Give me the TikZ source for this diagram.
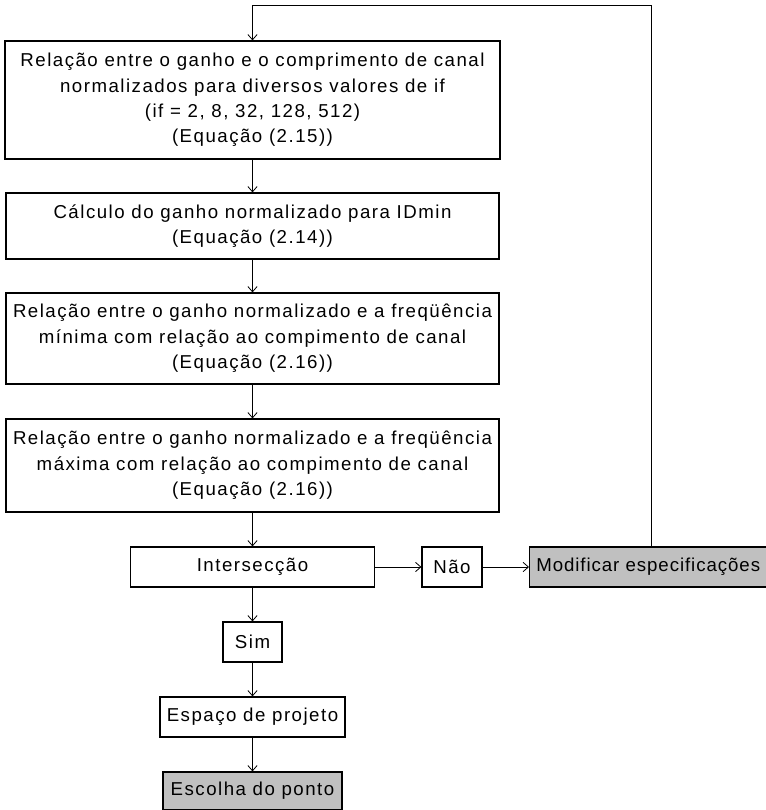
\documentclass[tikz,border=0pt]{standalone}
\usepackage{fontspec}
\setmainfont{Liberation Sans}[LetterSpace=8]
\usetikzlibrary{arrows.meta}
\definecolor{boxgray}{HTML}{C0C0C0}
\tikzset{
  x=0.75pt, y=-0.75pt,
  box/.style={draw=black, line width=0.9pt, fill=white, inner sep=0pt, align=center,
    font=\fontsize{14pt}{19pt}\selectfont},
  graybox/.style={box, fill=boxgray},
  conn/.style={draw=black, line width=0.7pt, -{Straight Barb[length=4pt,width=7pt,line width=0.6pt]}},
  plain/.style={draw=black, line width=0.7pt}
}
\begin{document}
\begin{tikzpicture}
\useasboundingbox (0,0) rectangle (765,810);
\node[box, minimum width=495*0.75pt, minimum height=118*0.75pt] (b1) at (252.5,100)
  {Relação entre o ganho e o comprimento de canal\\normalizados para diversos valores de if\\(if = 2, 8, 32, 128, 512)\\(Equação (2.15))};
\node[box, minimum width=493*0.75pt, minimum height=66*0.75pt] (b2) at (252.5,226)
  {Cálculo do ganho normalizado para IDmin\\(Equação (2.14))};
\node[box, minimum width=493*0.75pt, minimum height=91*0.75pt] (b3) at (252.5,338.5)
  {Relação entre o ganho normalizado e a freqüência\\mínima com relação ao compimento de canal\\(Equação (2.16))};
\node[box, minimum width=493*0.75pt, minimum height=93*0.75pt] (b4) at (252.5,465.5)
  {Relação entre o ganho normalizado e a freqüência\\máxima com relação ao compimento de canal\\(Equação (2.16))};
\node[box, minimum width=244*0.75pt, minimum height=40*0.75pt] (int) at (252.5,567) {Intersecção};
\node[box, minimum width=60*0.75pt, minimum height=40*0.75pt] (nao) at (452,567) {Não};
\node[graybox, minimum height=40*0.75pt, anchor=west] (mod) at (529,567)
  {\makebox[183.75pt][l]{\hspace{5pt}\addfontfeature{LetterSpace=5}Modificar especificações}};
\node[box, minimum width=59*0.75pt, minimum height=40*0.75pt] (sim) at (252.5,642) {Sim};
\node[box, minimum width=185*0.75pt, minimum height=40*0.75pt] (esp) at (252.5,717) {Espaço de projeto};
\node[graybox, minimum width=179*0.75pt, minimum height=38*0.75pt] (esc) at (252.5,791) {Escolha do ponto};
\coordinate (top) at (651,5);
\draw[conn] (b1) -- (b2);
\draw[conn] (b2) -- (b3);
\draw[conn] (b3) -- (b4);
\draw[conn] (b4) -- (int);
\draw[conn] (int) -- (nao);
\draw[conn] (nao) -- (mod);
\draw[conn] (int) -- (sim);
\draw[conn] (sim) -- (esp);
\draw[conn] (esp) -- (esc);
\draw[conn] (top |- mod.north) -- (top) -- (top -| b1.north) -- (b1.north);
\end{tikzpicture}
\end{document}
